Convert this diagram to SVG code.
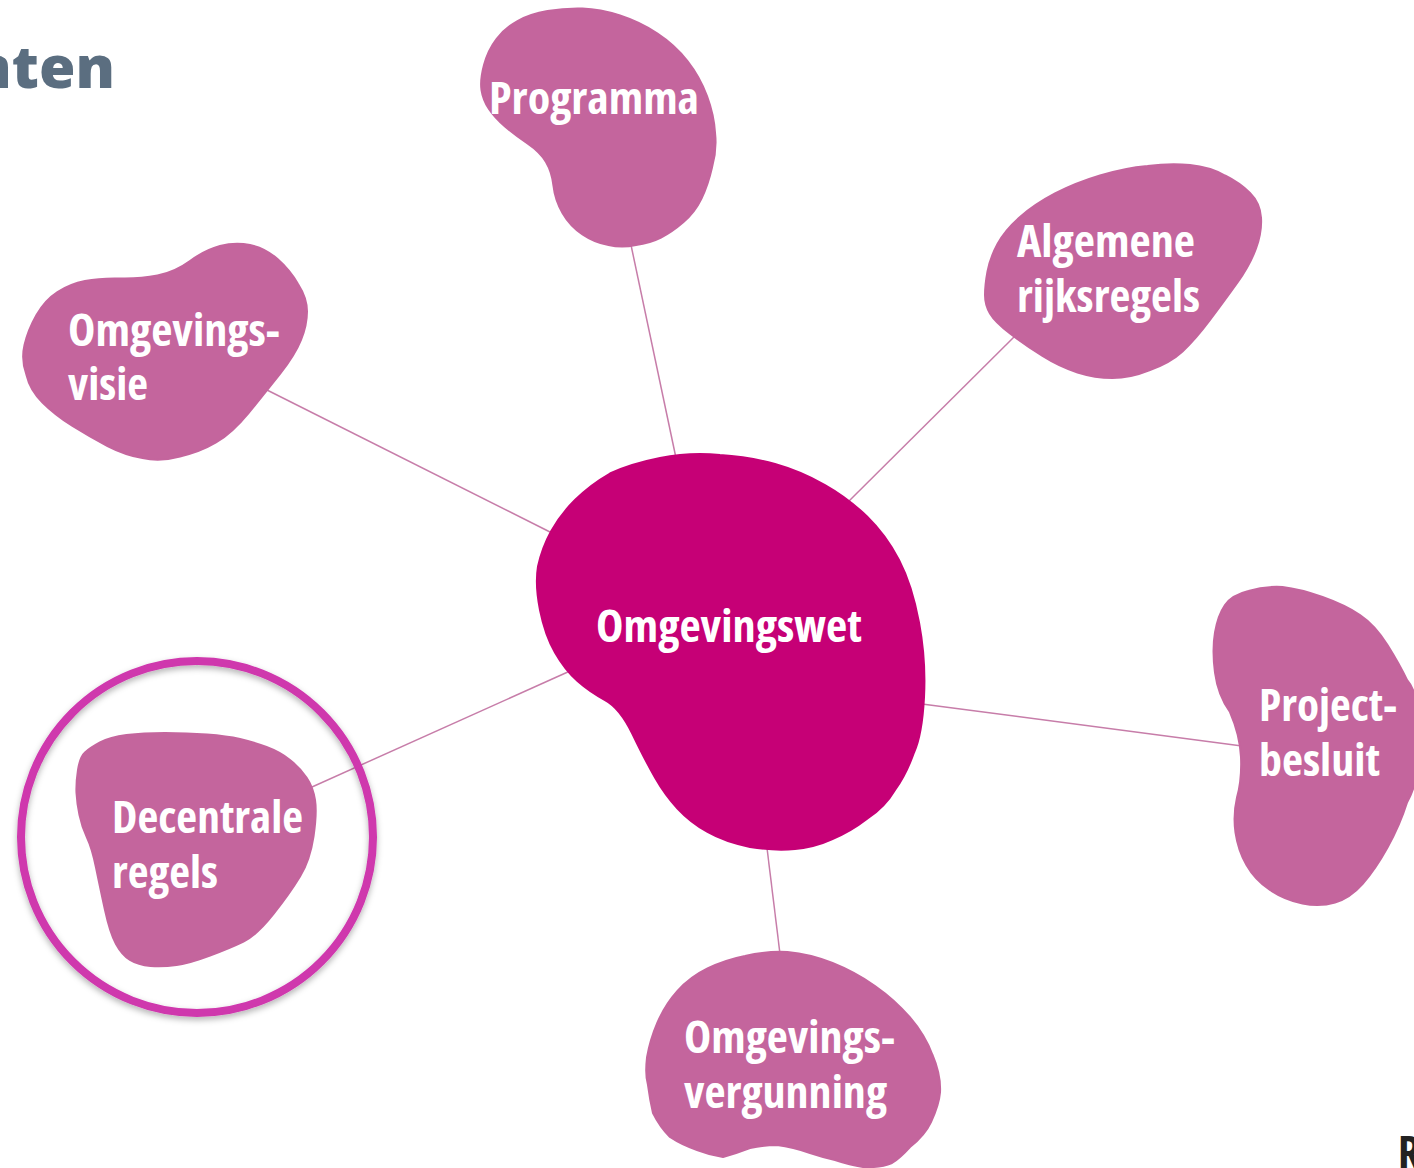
<svg xmlns="http://www.w3.org/2000/svg" width="1414" height="1168" viewBox="0 0 1414 1168">
<style>
.blob{fill:#c4659d;stroke:#c4659d;stroke-width:2;stroke-linejoin:round}
.main{fill:#c60076;stroke:#c60076;stroke-width:2;stroke-linejoin:round}
.lbl{font-family:"Open Sans","Noto Sans",sans-serif;font-weight:700;font-size:44px;fill:#fff;font-stretch:75%}
.c{stroke:#c77da9;stroke-width:1.5;fill:none}
</style>
<defs><filter id="sh" x="-10%" y="-10%" width="120%" height="120%"><feDropShadow dx="0" dy="3" stdDeviation="3" flood-color="#000" flood-opacity=".3"/></filter></defs>
<rect width="1414" height="1168" fill="#fff"/>
<text x="115" y="88" text-anchor="end" font-family="Open Sans, sans-serif" font-weight="800" font-size="59" fill="#5b6e80">nten</text>
<text x="1398" y="1168" font-family="Open Sans, sans-serif" font-weight="700" font-size="44" fill="#222" style="font-stretch:75%">R</text>
<g id="connectors">
<line class="c" x1="631" y1="245" x2="676" y2="458"/>
<line class="c" x1="1016" y1="335" x2="848" y2="502"/>
<line class="c" x1="265" y1="389" x2="550" y2="532"/>
<line class="c" x1="1242" y1="746" x2="922" y2="704"/>
<line class="c" x1="767" y1="848" x2="780" y2="954"/>
<line class="c" x1="312" y1="787" x2="570" y2="671"/>
</g>
<g id="node-programma"><path class="blob" d="M481.500 90Q480 80 484 65Q488 50 496.500 39Q505 28 517.500 21Q530 14 547.500 11Q565 8 582.500 8.500Q600 9 620 15.500Q640 22 657.500 33.500Q675 45 687.500 61Q700 77 707 96Q714 115 715 132.500Q717 150 712 167.500Q708 185 701.500 198.500Q695 212 683.500 222Q672 232 661 237.500Q650 243 636 245Q622 248 608.500 245Q595 243 582.500 234.500Q570 226 562.500 213Q555 200 553.500 186Q552 172 546 162Q540 152 527.500 143.500Q515 135 505 126.500Q495 118 489 109Q483 100 481.500 90Z"/>
<text class="lbl" x="489" y="114" textLength="210" lengthAdjust="spacingAndGlyphs">Programma</text></g>
<g id="node-algemene"><path class="blob" d="M985 295Q985 285 987.500 271.500Q990 258 997.500 244Q1005 230 1020 217Q1035 204 1055 193.500Q1075 183 1100 175.500Q1125 168 1147.500 166Q1170 163 1190 165Q1210 167 1225 175.500Q1240 183 1250 193Q1260 203 1261 217.500Q1262 232 1256 248.500Q1250 265 1237.500 282.500Q1225 300 1210 320Q1195 340 1182.500 351.500Q1170 363 1150 370Q1130 378 1112.500 378Q1095 378 1077.500 372.500Q1060 367 1042.500 356Q1025 345 1010 333.500Q995 322 990 313.500Q985 305 985 295Z"/>
<text class="lbl" x="1017" y="257" textLength="178" lengthAdjust="spacingAndGlyphs">Algemene</text><text class="lbl" x="1017" y="312" textLength="183" lengthAdjust="spacingAndGlyphs">rijksregels</text></g>
<g id="node-visie"><path class="blob" d="M26.500 375Q21 360 24.500 345Q28 330 36.500 315Q45 300 57.500 292Q70 284 85 281Q100 278 120 278.500Q140 279 157.500 275.500Q175 272 190 261Q205 250 220 246Q235 242 250 245Q265 248 277.500 259Q290 270 298 284Q307 298 307 311.500Q307 325 301 340Q295 355 280 374Q265 393 248.500 413Q232 433 216 442.500Q200 452 180 456.500Q160 462 142.500 458Q125 455 107.500 446Q90 437 72.500 426Q55 415 42.500 402.500Q30 390 26.500 375Z"/>
<text class="lbl" x="68" y="346" textLength="212" lengthAdjust="spacingAndGlyphs">Omgevings-</text><text class="lbl" x="68" y="400" textLength="80" lengthAdjust="spacingAndGlyphs">visie</text></g>
<g id="node-project"><path class="blob" d="M1215 672.500Q1212 650 1215 632.500Q1218 615 1225 605Q1232 595 1248.500 591Q1265 586 1282.500 587Q1300 589 1322.500 597Q1345 605 1360 615Q1375 625 1387.500 645Q1400 665 1407 680Q1420 695 1420 737.500Q1420 780 1407 802.500Q1400 825 1387.500 847.500Q1375 870 1362.500 884Q1350 898 1335 902.500Q1320 907 1302.500 903.500Q1285 900 1270 890Q1255 880 1246.500 865Q1238 850 1235.500 832.500Q1233 815 1237 797.500Q1242 780 1241 757Q1240 735 1230 712Q1218 695 1215 672.500Z"/>
<text class="lbl" x="1259" y="721" textLength="138" lengthAdjust="spacingAndGlyphs">Project-</text><text class="lbl" x="1259" y="776" textLength="121" lengthAdjust="spacingAndGlyphs">besluit</text></g>
<g id="node-vergunning"><path class="blob" d="M648 1085Q645 1075 647 1057.500Q650 1040 657.500 1022.500Q665 1005 677.500 991Q690 977 707.500 968.500Q725 960 745 956Q765 951 787.500 952Q810 954 832.500 963Q855 972 875 986Q895 1000 910 1017.500Q925 1035 932.500 1055Q941 1075 940 1092.500Q939 1105 931 1122Q925 1135 910 1147Q900 1158 892 1163Q880 1168 863 1167Q850 1165 835 1160Q822 1157 810 1153Q793 1147 777 1145Q763 1145 750 1148Q737 1153 723 1157Q710 1155 697 1150Q682 1145 670 1137Q660 1127 653 1113Q650 1100 648 1085Z"/>
<text class="lbl" x="684" y="1053" textLength="211" lengthAdjust="spacingAndGlyphs">Omgevings-</text><text class="lbl" x="684" y="1108" textLength="203" lengthAdjust="spacingAndGlyphs">vergunning</text></g>
<g id="node-decentrale"><path class="blob" d="M76.500 793Q76 783 78 770Q80 757 85 752.500Q90 748 100 742.500Q110 737 126.500 735Q143 733 165 733Q187 733 207 734.500Q227 736 240 739Q253 742 266.500 747Q280 752 290 760Q300 768 306.500 777.500Q313 787 315 800Q317 813 313.500 836.500Q310 860 300 876.500Q290 893 273.500 914Q257 935 243.500 941.500Q230 948 210 955.500Q190 963 176.500 965Q163 967 150.500 966Q138 965 130 960Q122 955 116 944Q110 933 105 910Q100 887 96 867.500Q92 848 87 837.500Q82 827 79.500 815Q77 803 76.500 793Z"/>
<text class="lbl" x="112" y="833" textLength="191" lengthAdjust="spacingAndGlyphs">Decentrale</text><text class="lbl" x="112" y="888" textLength="106" lengthAdjust="spacingAndGlyphs">regels</text></g>
<g id="node-omgevingswet"><path class="main" d="M540 610Q535 585 538 566.500Q542 548 551 531.500Q560 515 575 500Q590 485 610 473.500Q630 464 660 458Q690 452 720 455Q750 457 775 464Q800 471 825 485Q848 498 867 516.500Q886 535 899 560Q912 585 919 622.500Q926 660 924 697.500Q922 735 914 752.500Q906 775 895 790Q885 807 867.500 818.500Q850 832 832.500 839Q815 847 795 849Q775 851 750 847Q725 842 707.500 832Q690 822 677.500 808.500Q665 795 655 777.500Q645 760 632.500 734Q620 708 605 700Q590 692 577.500 681Q565 670 555 652.500Q545 635 540 610Z"/>
<text class="lbl" x="596" y="642" textLength="266" lengthAdjust="spacingAndGlyphs">Omgevingswet</text></g>
<circle id="highlight" cx="197" cy="837" r="176" fill="none" stroke="#cf37ad" stroke-width="8" filter="url(#sh)"/>
</svg>
